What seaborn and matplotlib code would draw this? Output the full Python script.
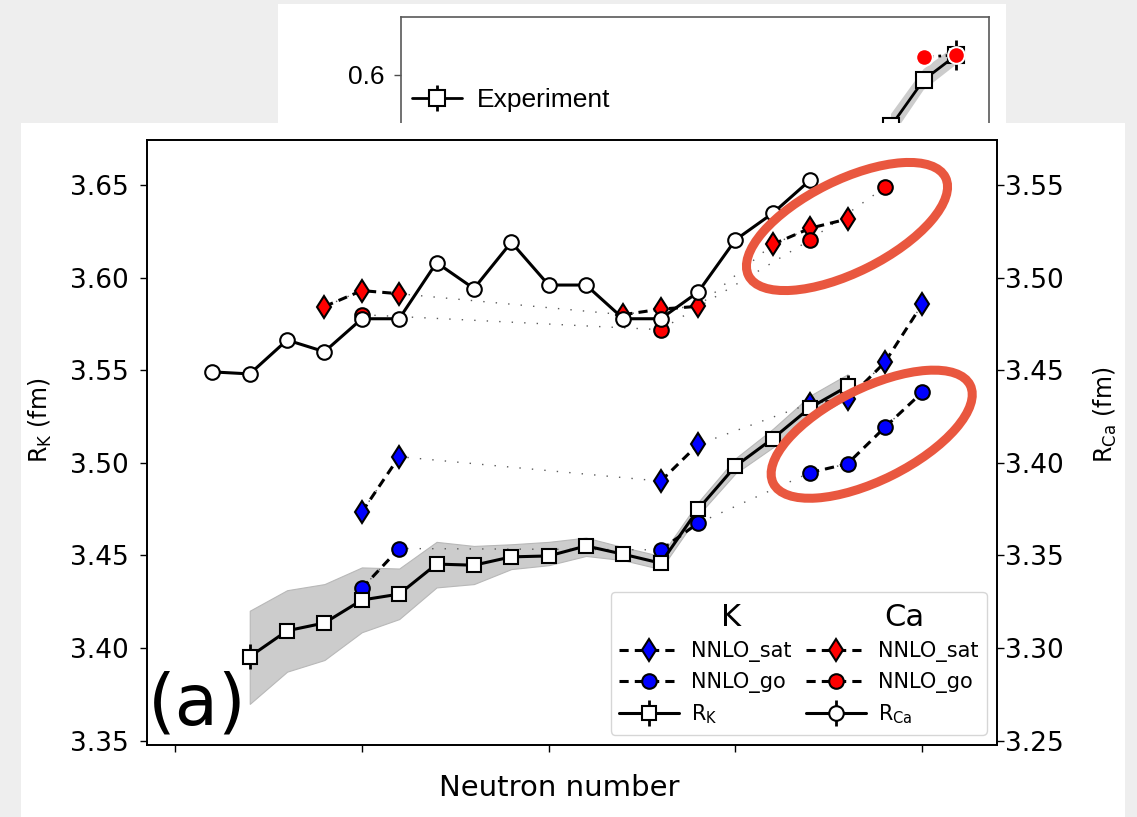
import numpy as np
import pandas as pd
import matplotlib
matplotlib.use("Agg")
import matplotlib.pyplot as plt
import seaborn as sns
from matplotlib.patches import Rectangle, Ellipse
from matplotlib.lines import Line2D
from matplotlib.legend_handler import HandlerTuple, HandlerErrorbar
from matplotlib.container import ErrorbarContainer

# ---------------- data: main panel ----------------
N_K = [17, 18, 19, 20, 21, 22, 23, 24, 25, 26, 27, 28, 29, 30, 31, 32, 33]
R_K = [3.3953, 3.4093, 3.4135, 3.4259, 3.4291, 3.4453, 3.4447, 3.4492, 3.4497,
       3.4551, 3.4506, 3.4458, 3.4749, 3.4982, 3.5131, 3.5298, 3.5413]
R_K_err = [0.0066, 0.002, 0.002, 0.002, 0.002, 0.002, 0.002, 0.002, 0.002,
           0.002, 0.002, 0.002, 0.002, 0.002, 0.003, 0.004, 0.006]
R_K_band_lo = [3.3698, 3.3872, 3.3935, 3.4085, 3.4156, 3.4327, 3.4345, 3.4426, 3.4447,
               3.4497, 3.4474, 3.4426, 3.4717, 3.4943, 3.5083, 3.5233, 3.5348]
R_K_band_hi = [3.4201, 3.4312, 3.4345, 3.4435, 3.4429, 3.4573, 3.4551, 3.4560, 3.4573,
               3.4596, 3.4544, 3.4496, 3.4787, 3.5024, 3.5183, 3.5363, 3.5478]

N_Ca = [16, 17, 18, 19, 20, 21, 22, 23, 24, 25, 26, 27, 28, 29, 30, 31, 32]
R_Ca = [3.4491, 3.4480, 3.4663, 3.4600, 3.4778, 3.4778, 3.5081, 3.4941, 3.5191,
        3.4960, 3.4960, 3.4778, 3.4778, 3.4922, 3.5204, 3.5348, 3.5527]
R_Ca_err = [0.0015, 0.0015, 0.0015, 0.0015, 0.0015, 0.0015, 0.0015, 0.0015, 0.0015,
            0.0015, 0.0015, 0.0015, 0.0015, 0.0015, 0.0015, 0.0015, 0.0015]

N_K_sat = [20, 21, 28, 29, 32, 33, 34, 35]
R_K_sat = [3.4734, 3.5033, 3.4901, 3.5099, 3.5320, 3.5342, 3.5543, 3.5857]
N_K_go = [20, 21, 28, 29, 32, 33, 34, 35]
R_K_go = [3.4322, 3.4537, 3.4530, 3.4674, 3.4947, 3.4995, 3.5192, 3.5381]
N_Ca_sat = [19, 20, 21, 27, 28, 29, 31, 32, 33]
R_Ca_sat = [3.4844, 3.4930, 3.4913, 3.4800, 3.4830, 3.4845, 3.5180, 3.5267, 3.5317]
N_Ca_go = [20, 28, 32, 34]
R_Ca_go = [3.4800, 3.4719, 3.5204, 3.5488]

K_ticks = [3.35, 3.40, 3.45, 3.50, 3.55, 3.60, 3.65]
Ca_ticks = [3.25, 3.30, 3.35, 3.40, 3.45, 3.50, 3.55]
N_ticks = [15, 20, 25, 30, 35]

# ---------------- data: partly hidden panel above ----------------
N_in_exp = [29, 30, 31]
R_in_exp = [0.566, 0.5967, 0.6133]
R_in_err = [0.004, 0.004, 0.010]
R_in_lo = [0.558, 0.590, 0.607]
R_in_hi = [0.574, 0.604, 0.620]
N_in_go = [30, 31]
R_in_go = [0.6120, 0.6133]
N_in_tri = [31]
R_in_tri = [0.5625]
in_ticks = [0.5, 0.6]

# ---------------- style ----------------
sns.set_style("ticks")
plt.rcParams['font.family'] = ['DejaVu Sans']
plt.rcParams.update({
    'text.color': 'black', 'axes.labelcolor': 'black',
    'xtick.color': 'black', 'ytick.color': 'black',
    'axes.edgecolor': 'black', 'axes.linewidth': 1.25,
    'mathtext.default': 'regular',
})

W, H = 1137, 817
fig = plt.figure(figsize=(W / 100, H / 100), dpi=100, facecolor='#eeeeee')


def fx(px):
    return px / W


def fy(py):
    return 1 - py / H


# white panels (screenshot collage)
fig.add_artist(Rectangle((fx(278), fy(123)), (1006 - 278) / W, (123 - 4) / H,
                         transform=fig.transFigure, facecolor='white',
                         edgecolor='none', zorder=0.1))
fig.add_artist(Rectangle((fx(21), 0), (1125 - 21) / W, fy(123),
                         transform=fig.transFigure, facecolor='white',
                         edgecolor='none', zorder=0.3))

# ---------------- upper (cropped) panel ----------------
axi = fig.add_axes([fx(401), fy(300), (989 - 401) / W, (300 - 17) / H], zorder=0.2)
axi.set_xlim(14, 32)
axi.set_ylim(0.45, 0.6 + 58 / 1500)
axi.fill_between(N_in_exp, R_in_lo, R_in_hi, facecolor='0.8', edgecolor='none', zorder=1)
eb_in = axi.errorbar(N_in_exp, R_in_exp, yerr=R_in_err, fmt='-s', color='black',
                     mfc='white', mec='black', ms=11, mew=1.5, lw=2, elinewidth=2,
                     capsize=0, zorder=3)
sns.lineplot(x=N_in_go, y=R_in_go, ax=axi, color='black', lw=2, linestyle=':',
             marker='o', ms=12, mfc='red', mec='white', mew=1.5, zorder=4,
             estimator=None)
axi.plot(N_in_tri, R_in_tri, ls='none', marker='^', ms=10, mfc='none',
         mec='#33cc33', mew=1.3)
axi.set_xticks([])
axi.set_yticks(in_ticks)
axi.set_yticklabels(['0.5', '0.6'], fontfamily='Liberation Sans', fontsize=19)
axi.tick_params(axis='y', length=5, width=1, color='0.3', pad=7)
for s in axi.spines.values():
    s.set_color('0.35')
    s.set_linewidth(1.2)
axi.legend(handles=[eb_in], labels=['Experiment'], loc='center left',
           bbox_to_anchor=(fx(412), fy(100)), bbox_transform=fig.transFigure,
           frameon=False, borderpad=0, borderaxespad=0, handlelength=1.9,
           handletextpad=0.57, prop={'family': 'Liberation Sans', 'size': 19})

# ---------------- main panel ----------------
ax = fig.add_axes([fx(147), fy(745), (997 - 147) / W, (745 - 139.5) / H], zorder=1)
ax2 = ax.twinx()
ax2.set_zorder(2)
ax2.patch.set_visible(False)

ax.set_xlim(14.25, 37.0)
ax.set_ylim(3.3476, 3.6746)
ax2.set_ylim(3.3476 - 0.1, 3.6746 - 0.1)

LW = 2.2
DASH = (0, (3, 2))


def segments(N, R):
    N = np.asarray(N)
    seg = np.concatenate([[0], np.cumsum(np.diff(N) != 1)])
    return pd.DataFrame({'N': N, 'R': R, 'seg': seg})


def theory(axx, N, R, marker, ms, fc):
    df = segments(N, R)
    sns.lineplot(data=df, x='N', y='R', ax=axx, color='0.35', lw=1.0,
                 linestyle=(0, (1, 8)), estimator=None, zorder=2)
    sns.lineplot(data=df, x='N', y='R', units='seg', estimator=None, ax=axx,
                 color='black', lw=LW, linestyle=DASH, marker=marker, ms=ms,
                 mfc=fc, mec='black', mew=1.5, zorder=3)


# K (left axis)
ax.fill_between(N_K, R_K_band_lo, R_K_band_hi, facecolor='0.8', edgecolor='0.72',
                lw=0.8, zorder=1)
theory(ax, N_K_sat, R_K_sat, 'd', 11.5, 'blue')
theory(ax, N_K_go, R_K_go, 'o', 10.5, 'blue')
eb_K = ax.errorbar(N_K, R_K, yerr=R_K_err, fmt='none', ecolor='black',
                   elinewidth=2, capsize=0, zorder=4)
sns.lineplot(x=N_K, y=R_K, ax=ax, color='black', lw=LW, marker='s', ms=10,
             mfc='white', mec='black', mew=1.5, zorder=5, estimator=None)

# Ca (right axis)
theory(ax2, N_Ca_sat, R_Ca_sat, 'd', 11.5, 'red')
theory(ax2, N_Ca_go, R_Ca_go, 'o', 10.5, 'red')
eb_Ca = ax2.errorbar(N_Ca, R_Ca, yerr=R_Ca_err, fmt='none', ecolor='black',
                     elinewidth=2, capsize=0, zorder=4)
sns.lineplot(x=N_Ca, y=R_Ca, ax=ax2, color='black', lw=LW, marker='o', ms=10.5,
             mfc='white', mec='black', mew=1.5, zorder=5, estimator=None)

ax.set_xticks(N_ticks)
ax.tick_params(axis='x', labelbottom=False, length=5.3, width=1, direction='out')
ax.set_yticks(K_ticks)
ax.set_yticklabels([f'{v:.2f}' for v in K_ticks])
ax.tick_params(axis='y', labelsize=19, length=5.3, width=1, pad=8, direction='out')
ax2.set_yticks(Ca_ticks)
ax2.set_yticklabels([f'{v:.2f}' for v in Ca_ticks])
ax2.tick_params(axis='y', labelsize=19, length=5.3, width=1, pad=0.5, direction='out')

ax.set_xlabel('Neutron number', fontsize=21)
ax.xaxis.label.set_va('center')
ax.xaxis.set_label_coords((559 - 147) / 850, (745 - 788) / 605.5)
ax.set_ylabel(r'R$_{\rm K}$ (fm)', fontsize=17)
ax.yaxis.label.set_va('center')
ax.yaxis.set_label_coords((40 - 147) / 850, (745 - 420) / 605.5)
ax2.set_ylabel(r'R$_{\rm Ca}$ (fm)', fontsize=17)
ax2.yaxis.label.set_va('center')
ax2.yaxis.set_label_coords((1105 - 147) / 850, (745 - 415) / 605.5)

# legend
def th_handle(marker, ms, fc):
    return Line2D([], [], color='black', lw=LW, linestyle=DASH, marker=marker,
                  ms=ms, mfc=fc, mec='black', mew=1.5)

hK_line = Line2D([], [], color='black', lw=LW, marker='s', ms=10, mfc='white',
                 mec='black', mew=1.5)
hCa_line = Line2D([], [], color='black', lw=LW, marker='o', ms=10.5, mfc='white',
                  mec='black', mew=1.5)
handles = [th_handle('d', 11.5, 'blue'), th_handle('o', 10.5, 'blue'), (eb_K, hK_line),
           th_handle('d', 11.5, 'red'), th_handle('o', 10.5, 'red'), (eb_Ca, hCa_line)]
labels = ['NNLO_sat', 'NNLO_go', r'R$_{\rm K}$',
          'NNLO_sat', 'NNLO_go', r'R$_{\rm Ca}$']
leg = ax2.legend(handles, labels, ncol=2, loc='lower right', fontsize=15,
                 title=' ', title_fontsize=23, handlelength=2.9,
                 handletextpad=0.55, columnspacing=0.7, borderpad=0.4,
                 labelspacing=0.47, framealpha=0.8, edgecolor='0.8',
                 handler_map={tuple: HandlerTuple(ndivide=1),
                              ErrorbarContainer: HandlerErrorbar(xerr_size=0.62)})

fig.text(fx(731), fy(618), 'K', fontsize=22, ha='center', va='center', zorder=10)
fig.text(fx(904), fy(618), 'Ca', fontsize=22, ha='center', va='center', zorder=10)

# annotation ellipses
ell_color = '#E9573F'
for cxp, cyp in [(847, 226.5), (871.7, 434.2)]:
    fig.add_artist(Ellipse((cxp / 100, (H - cyp) / 100), 2.20, 0.92, angle=26.5,
                           transform=fig.dpi_scale_trans, fill=False,
                           edgecolor=ell_color, lw=6.5, zorder=9))

fig.text(fx(148), fy(725), '(a)', fontsize=51, ha='left', va='baseline', zorder=10)

fig.savefig('out.png', dpi=100, facecolor=fig.get_facecolor())
